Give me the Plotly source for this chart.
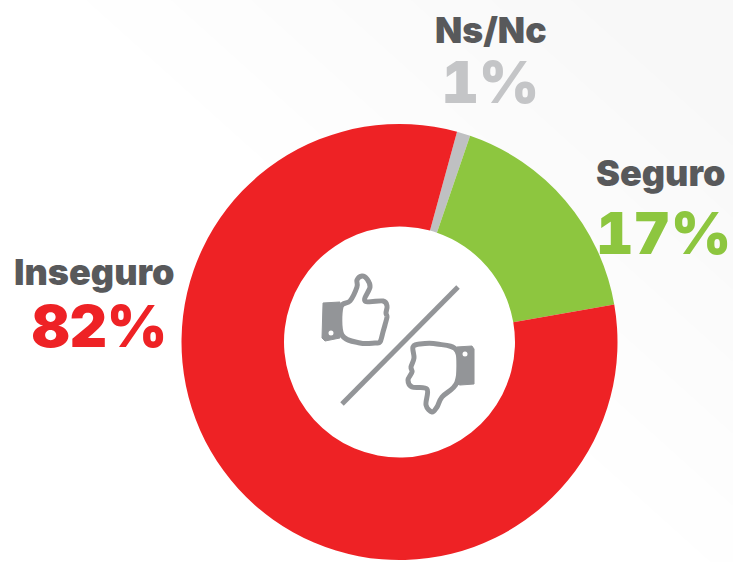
import plotly.graph_objects as go

labels = ["Ns/Nc", "Seguro", "Inseguro"]
values = [1, 17, 82]
colors = ["#BFC0C2", "#8DC63F", "#EE2225"]
pct_colors = ["#C4C5C7", "#8DC63F", "#EE2225"]
W, H = 733, 562
CX, CY, R = 399.5, 342, 218
HOLE = 115.5 / 218

fig = go.Figure(go.Pie(
    labels=labels, values=values, sort=False, direction="clockwise", rotation=15.3,
    hole=HOLE, textinfo="none", hoverinfo="label+percent",
    marker=dict(colors=colors, line=dict(width=0)), showlegend=False,
    domain=dict(x=[(CX - R) / W, (CX + R) / W], y=[1 - (CY + R) / H, 1 - (CY - R) / H]),
))

def px(x): return x / W
def py(y): return 1 - y / H
def P(x, y): return f"{px(x):.4f},{py(y):.4f}"

def path(pts):
    return "M" + " L".join(P(x, y) for x, y in pts) + " Z"

def smooth(pts, k=1 / 6):
    """Closed Catmull-Rom curve through the outline points."""
    n = len(pts)
    s = "M" + P(*pts[0])
    for i in range(n):
        p0, p1, p2, p3 = pts[i - 1], pts[i], pts[(i + 1) % n], pts[(i + 2) % n]
        c1 = (p1[0] + (p2[0] - p0[0]) * k, p1[1] + (p2[1] - p0[1]) * k)
        c2 = (p2[0] - (p3[0] - p1[0]) * k, p2[1] - (p3[1] - p1[1]) * k)
        s += " C" + P(*c1) + " " + P(*c2) + " " + P(*p2)
    return s + " Z"

GR = "#939598"
shapes = []
# very faint diagonal background shading, darker towards the upper right
for d in [85, 170, 250, 330, 410, 490, 570]:
    poly = [(d, 0), (W, 0), (W, (W - d) * 0.9)]
    shapes.append(dict(type="path", xref="paper", yref="paper", path=path(poly), fillcolor="rgba(0,0,0,0.004)",
                       line=dict(width=0), layer="below"))
shapes.append(dict(type="circle", xref="paper", yref="paper", x0=px(CX - 116), x1=px(CX + 116),
                   y0=py(CY + 116), y1=py(CY - 116), fillcolor="white", line=dict(width=0), layer="below"))
# slash
shapes.append(dict(type="line", xref="paper", yref="paper", x0=px(342), y0=py(404), x1=px(458), y1=py(287),
                   line=dict(color=GR, width=5)))
# thumb up
up = [(341, 307), (350, 301), (357, 287), (357, 280), (362, 276), (367, 279), (370, 287), (365, 301),
      (383, 301), (387, 306), (386, 313), (387, 317), (385, 325), (383, 332), (380, 342), (375, 343),
      (360, 343), (342, 335)]
shapes.append(dict(type="path", xref="paper", yref="paper", path=smooth(up), fillcolor="white",
                   line=dict(color=GR, width=5)))
cuff = [(323, 303), (340, 302), (340, 338), (325, 341), (322, 338)]
shapes.append(dict(type="path", xref="paper", yref="paper", path=path(cuff), fillcolor=GR,
                   line=dict(color=GR, width=1)))
shapes.append(dict(type="circle", xref="paper", yref="paper", x0=px(328.5), x1=px(333.5), y0=py(335.5), y1=py(330.5),
                   fillcolor="white", line=dict(width=0)))
# thumb down
down = [(457, 351), (437, 344), (420, 344), (413, 347), (414, 358), (411, 367), (412, 372), (408, 380),
        (412, 387), (427, 389), (426, 405), (432, 412), (437, 407), (442, 397), (457, 382)]
shapes.append(dict(type="path", xref="paper", yref="paper", path=smooth(down), fillcolor="white",
                   line=dict(color=GR, width=5)))
cuff2 = [(457, 347), (472, 346), (474, 349), (474, 384), (460, 385), (457, 384)]
shapes.append(dict(type="path", xref="paper", yref="paper", path=path(cuff2), fillcolor=GR,
                   line=dict(color=GR, width=1)))
shapes.append(dict(type="circle", xref="paper", yref="paper", x0=px(462.5), x1=px(467.5), y0=py(356.5), y1=py(351.5),
                   fillcolor="white", line=dict(width=0)))

FONT = "Inter, Liberation Sans, sans-serif"
NAME = "#58595B"
def txt(s, x, y, size, color):
    return dict(text=s, x=px(x), y=py(y), xref="paper", yref="paper", showarrow=False,
                xanchor="center", yanchor="middle",
                font=dict(family=FONT, size=size, color=color, weight=900))

ann = [
    txt(labels[0], 491, 30, 35.5, NAME),
    txt(f"{values[0]}%", 490, 82, 58, pct_colors[0]),
    txt(labels[1], 660, 173, 36, NAME),
    txt(f"{values[1]}%", 663, 233, 58, pct_colors[1]),
    txt(labels[2], 94, 272, 36, NAME),
    txt(f"{values[2]}%", 99, 326, 58, pct_colors[2]),
]

fig.update_layout(width=W, height=H, margin=dict(l=0, r=0, t=0, b=0), paper_bgcolor="#FFFFFF",
                  shapes=shapes, annotations=ann)
js = ("document.body.style.margin='0';document.body.style.overflow='hidden';"
      "var st=document.createElement('style');"
      "st.textContent=\".annotation-text{font-feature-settings:'tnum' 1;}\";"
      "document.head.appendChild(st);")
fig.write_html("out.html", post_script=js, config={"displayModeBar": False})
